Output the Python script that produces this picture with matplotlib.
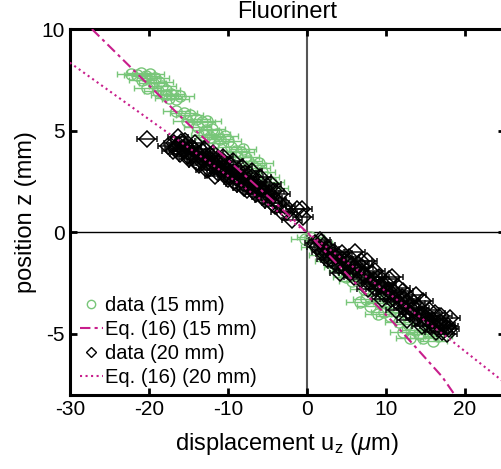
import matplotlib
matplotlib.use("Agg")
import matplotlib.pyplot as plt
from matplotlib.lines import Line2D

plt.rcParams["font.family"] = ["Liberation Sans", "DejaVu Sans"]
plt.rcParams["mathtext.fontset"] = "custom"
plt.rcParams["mathtext.rm"] = "Liberation Sans"
plt.rcParams["mathtext.it"] = "Liberation Sans:italic"
plt.rcParams["axes.unicode_minus"] = False

# ---------------------------------------------------------------------------
# Data
# ---------------------------------------------------------------------------

# 15 mm measurements (green circles)
x15 = [-22.3, -21.5, -21.0, -20.4, -19.8, -19.2, -20.8, -19.5, -18.7, -18.3,
       -17.8, -18.9, -17.2, -16.6, -16.0, -17.5, -20.2, -18.0,
       -16.5, -15.6, -14.8, -15.2, -14.0, -13.3, -12.6, -13.8, -12.8, -12.0,
       -11.4, -12.3, -11.0, -10.4, -10.0, -11.7, -13.0,
       -9.6, -9.0, -8.4, -8.8, -7.8, -7.4, -6.9, -6.4, -5.7, -5.2, -4.6,
       -4.05, -8.1, -6.0,
       -0.3, 0.4, 1.0, 1.5, 2.0, 2.7, 3.2, 3.8, 4.5, 5.0, 5.7, 6.3, 6.7, 7.2,
       8.0, 8.6, 9.2, 9.8, 10.5, 11.0, 11.6, 12.2, 12.8, 13.0, 13.7, 14.2,
       14.7, 15.3, 16.0, 16.6, 7.5, 9.0, 4.2, 10.2]
y15 = [7.8, 7.75, 7.85, 7.7, 7.8, 7.6, 7.5, 7.35, 7.4, 7.2,
       7.0, 6.95, 6.8, 6.55, 6.7, 6.6, 7.1, 6.75,
       5.95, 5.85, 5.75, 5.5, 5.6, 5.45, 5.5, 5.2, 5.05, 5.1,
       4.85, 4.7, 4.6, 4.75, 4.5, 4.4, 4.8,
       4.2, 4.0, 3.95, 3.7, 3.7, 3.5, 3.3, 3.15, 2.95, 2.7, 2.5,
       2.2, 4.1, 3.4,
       -0.35, -0.25, -0.7, -0.55, -1.1, -1.4, -1.2, -1.7, -1.9, -2.2, -2.4,
       -2.1, -3.45, -2.8, -3.65, -3.1, -3.5, -3.9, -4.1, -3.7, -4.4, -4.9,
       -4.5, -5.2, -4.8, -5.0, -5.2, -4.9, -5.35, -5.1, -3.3, -4.0, -1.4, -3.4]
xerr15 = 1.7

# 20 mm measurements (black diamonds)
x20 = [-20.25, -17.6, -16.3,
       -16.8, -16.5, -16.2, -15.9, -15.6, -15.3, -15.0, -14.7, -14.4, -14.1,
       -13.8, -13.5, -13.2, -12.9, -12.6, -12.3, -12.0, -11.7, -11.4, -11.1,
       -10.8, -10.5, -10.2, -9.9, -9.6, -9.3, -9.0, -8.7, -8.4, -8.1, -7.8,
       -7.5, -7.2, -6.9, -6.6, -6.3, -6.0, -5.7, -5.4, -5.1, -4.8, -4.5, -4.2,
       -3.9, -3.6, -3.2, -2.8, -1.9, -1.3, -0.6, -0.5,
       -17.0, -16.0, -15.4, -14.9, -14.2, -13.6, -13.0, -12.4, -11.9, -11.3,
       -10.6, -10.0, -9.4, -8.9, -8.2, -7.6, -7.0, -6.5, -5.9, -5.3, -4.6,
       -4.0, -3.4, -2.5,
       -16.6, -15.1, -13.9, -12.7, -11.6, -10.4, -9.2, -8.0, -6.8, -5.6,
       -4.4, -15.7, -14.5, -13.3, -12.1, -10.9, -9.7, -8.5, -7.3, -6.1,
       1.0, 1.3, 1.6, 1.9, 2.2, 2.5, 2.8, 3.1, 3.4, 3.7, 4.0, 4.2, 4.5, 4.8,
       5.1, 5.4, 5.7, 6.1, 6.4, 6.7, 7.0, 7.3, 7.6, 7.9, 8.2, 8.5, 8.8, 9.1,
       9.4, 9.7, 10.0, 10.3, 10.6, 10.8, 11.1, 11.4, 11.7, 12.0, 12.3, 12.7,
       13.0, 13.3, 13.6, 13.9, 14.2, 14.5, 14.7, 15.0, 15.3, 15.6, 15.9, 16.2,
       16.5, 16.8, 17.1, 17.4, 17.7, 18.1, 18.0,
       1.8, 2.6, 3.5, 4.4, 5.3, 6.0, 6.9, 7.7, 8.6, 9.5, 10.4, 11.3, 12.1,
       12.9, 13.8, 14.6, 15.4, 16.3, 17.0, 17.6,
       2.3, 3.3, 4.9, 5.9, 7.1, 8.1, 9.2, 10.1, 11.0, 11.9, 12.5, 13.5,
       14.3, 15.2, 16.0, 16.9, 17.8, 6.5, 8.9, 13.1]
y20 = [4.6, 4.25, 4.7,
       4.4, 4.1, 4.3, 4.45, 4.0, 4.25, 3.95, 4.2, 3.75, 4.05,
       3.85, 3.55, 3.95, 3.7, 3.4, 3.8, 3.5, 3.2, 3.6, 3.35,
       2.95, 3.45, 3.1, 2.8, 3.25, 2.95, 2.65, 3.05, 2.75, 2.45, 2.9,
       2.55, 2.3, 2.7, 2.35, 2.1, 2.5, 2.15, 1.9, 2.3, 1.95, 1.7, 2.05,
       1.6, 1.45, 1.0, 1.3, 0.6, 1.15, 1.15, 0.75,
       4.0, 3.85, 4.5, 3.6, 4.4, 3.3, 4.1, 3.1, 3.9, 2.9,
       3.7, 2.6, 3.5, 2.4, 3.2, 2.1, 3.0, 1.9, 2.7, 1.6, 2.4,
       1.3, 1.9, 1.0,
       4.2, 3.75, 3.45, 3.05, 2.75, 2.85, 2.5, 2.2, 2.05, 1.75,
       1.45, 4.1, 3.9, 3.6, 3.35, 3.1, 2.95, 2.6, 2.4, 2.25,
       -0.55, -0.7, -0.4, -0.95, -0.6, -1.05, -0.8, -1.35, -0.95, -1.2, -1.65,
       -2.0, -1.3, -1.7, -1.45, -2.0, -1.6, -0.95, -1.85, -2.3, -1.7, -2.1,
       -1.4, -2.5, -2.0, -2.35, -2.8, -2.2, -2.6, -3.05, -2.5, -2.85, -3.3,
       -2.2, -3.0, -3.45, -2.75, -3.2, -3.7, -4.3, -3.3, -3.8, -3.5, -4.2,
       -3.7, -4.0, -3.4, -4.5, -4.1, -4.6, -4.3, -3.95, -4.7, -4.4, -4.9,
       -4.55, -5.0, -4.2, -4.75,
       -0.5, -1.3, -1.5, -1.0, -1.2, -2.2, -1.4, -2.8, -1.9, -3.3, -2.3,
       -3.8, -2.9, -3.9, -3.1, -4.6, -3.8, -4.9, -4.1, -4.7,
       -0.85, -1.1, -1.85, -1.75, -2.05, -2.45, -2.65, -3.0, -2.95, -3.4,
       -3.5, -3.7, -4.05, -4.25, -4.55, -4.6, -4.6, -1.55, -2.55, -4.0]
xerr20 = 1.3

# Eq. (16) curves
eq15_x = [-27.2, -15.2, -2.15, 0.0, 11.4, 17.1, 18.7]
eq15_y = [10.0, 5.4, 0.79, 0.0, -4.63, -7.1, -8.0]
eq20_x = [-30.0, -17.0, 0.0, 18.1, 24.05, 25.0]
eq20_y = [8.35, 4.73, 0.0, -5.27, -7.1, -7.4]

GREEN = "#78C679"
MAGENTA = "#C81E8C"

# ---------------------------------------------------------------------------
# Figure
# ---------------------------------------------------------------------------

fig = plt.figure(figsize=(5.02, 4.69), dpi=100)
ax = fig.add_axes([0.139, 0.158, 0.866, 0.780])

ax.axvline(0, color="#555555", linewidth=1.5, zorder=1)
ax.axhline(0, color="black", linewidth=1.0, zorder=1)

ax.errorbar(x15, y15, xerr=xerr15, fmt="o", ms=8, mfc="none", mec=GREEN,
            mew=1.0, ecolor=GREEN, elinewidth=1.0, capsize=2, zorder=2)
ax.errorbar(x20, y20, xerr=xerr20, fmt="D", ms=8, mfc="none", mec="black",
            mew=1.1, ecolor="#111111", elinewidth=1.1, capsize=2, zorder=3)
ax.plot(eq15_x, eq15_y, color=MAGENTA, linewidth=1.5, dashes=(5, 2, 1.5, 2),
        zorder=4)
ax.plot(eq20_x, eq20_y, color=MAGENTA, linewidth=1.5, linestyle=":", zorder=4)

ax.set_xlim(-30, 25)
ax.set_ylim(-8, 10)
ax.set_xticks([-30, -20, -10, 0, 10, 20])
ax.set_yticks([-5, 0, 5, 10])
ax.tick_params(direction="in", length=5, width=2, labelsize=15, top=True,
               right=True)
for s in ax.spines.values():
    s.set_linewidth(2.2)

ax.set_title("Fluorinert", fontsize=17, pad=8)
ax.set_xlabel(r"displacement u$_\mathregular{z}$ ($\mu$m)", fontsize=17,
              labelpad=9)
ax.set_ylabel("position z (mm)", fontsize=17, labelpad=3)

handles = [
    Line2D([], [], marker="o", ms=6, mfc="none", mec=GREEN, linestyle="none"),
    Line2D([], [], color=MAGENTA, linewidth=1.5, dashes=(5, 2, 1.5, 2)),
    Line2D([], [], marker="D", ms=5, mfc="none", mec="black", linestyle="none"),
    Line2D([], [], color=MAGENTA, linewidth=1.5, linestyle=":"),
]
labels = ["data (15 mm)", "Eq. (16) (15 mm)", "data (20 mm)", "Eq. (16) (20 mm)"]
ax.legend(handles, labels, loc="lower left", bbox_to_anchor=(-0.01, -0.018),
          frameon=False, fontsize=14.5, handlelength=1.15, handletextpad=0.1,
          labelspacing=0.25, borderaxespad=0.3)

fig.savefig("out.png", dpi=100)
